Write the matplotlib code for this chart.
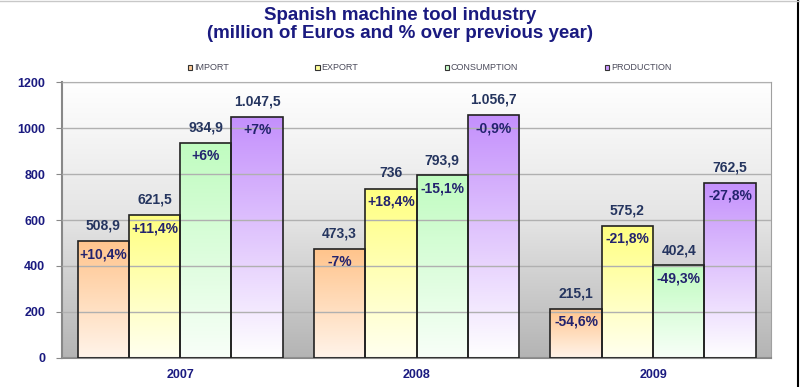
import numpy as np
import matplotlib.pyplot as plt
from matplotlib.patches import Patch
from matplotlib.lines import Line2D
from matplotlib.colors import LinearSegmentedColormap

plt.rcParams['font.family'] = ['Liberation Sans', 'DejaVu Sans']

years = ['2007', '2008', '2009']
series = ['IMPORT', 'EXPORT', 'CONSUMPTION', 'PRODUCTION']
values = {
    'IMPORT':      [508.9, 473.3, 215.1],
    'EXPORT':      [621.5, 736.0, 575.2],
    'CONSUMPTION': [934.9, 793.9, 402.4],
    'PRODUCTION':  [1047.5, 1056.7, 762.5],
}
value_labels = {
    'IMPORT':      ['508,9', '473,3', '215,1'],
    'EXPORT':      ['621,5', '736', '575,2'],
    'CONSUMPTION': ['934,9', '793,9', '402,4'],
    'PRODUCTION':  ['1.047,5', '1.056,7', '762,5'],
}
pct_labels = {
    'IMPORT':      ['+10,4%', '-7%', '-54,6%'],
    'EXPORT':      ['+11,4%', '+18,4%', '-21,8%'],
    'CONSUMPTION': ['+6%', '-15,1%', '-49,3%'],
    'PRODUCTION':  ['+7%', '-0,9%', '-27,8%'],
}
yticks = [0, 200, 400, 600, 800, 1000, 1200]

# top colour / bottom colour of each bar gradient
grad_cols = {
    'IMPORT':      ('#ffc48c', '#fff4ea'),
    'EXPORT':      ('#ffff80', '#fffff0'),
    'CONSUMPTION': ('#c0fcc0', '#f8fff8'),
    'PRODUCTION':  ('#c490fc', '#ffffff'),
}
legend_cols = {'IMPORT': '#ffcc99', 'EXPORT': '#ffff99',
               'CONSUMPTION': '#ccffcc', 'PRODUCTION': '#cc99ff'}

navy = '#1a1a80'
val_col = '#25355f'
pct_col = '#23236e'

fig = plt.figure(figsize=(8, 3.87), dpi=100)
ax = fig.add_axes([0.0775, 0.075, 0.8865, 0.713])

x = np.arange(len(years))
w = 0.217
offsets = (np.arange(4) - 1.5) * w

# background gradient of plot area
bg = LinearSegmentedColormap.from_list('bg', ['#b4b4b4', '#e4e4e4', '#ffffff'])
ax.imshow(np.linspace(0, 1, 256).reshape(-1, 1), cmap=bg, origin='lower',
          extent=[0, 1, 0, 1], transform=ax.transAxes, aspect='auto', zorder=0)

for i, s in enumerate(series):
    bars = ax.bar(x + offsets[i], values[s], w, facecolor='none',
                  edgecolor='#222222', linewidth=1.2, zorder=3)
    cm = LinearSegmentedColormap.from_list(s, [grad_cols[s][1], grad_cols[s][0]])
    for j, b in enumerate(bars):
        x0, y0 = b.get_x(), b.get_y()
        bw, bh = b.get_width(), b.get_height()
        im = ax.imshow(np.linspace(0, 1, 256).reshape(-1, 1), cmap=cm, origin='lower',
                       extent=[x0, x0 + bw, y0, y0 + bh], aspect='auto', zorder=2)
        im.set_clip_path(b)
        ax.annotate(value_labels[s][j], (x0 + bw / 2, bh), xytext=(0, 6),
                    textcoords='offset points', ha='center', va='bottom',
                    fontsize=10, fontweight='bold', color=val_col, zorder=5)
        ax.annotate(pct_labels[s][j], (x0 + bw / 2, bh), xytext=(0, -4.5),
                    textcoords='offset points', ha='center', va='top',
                    fontsize=10, fontweight='bold', color=pct_col, zorder=5)

ax.set_xlim(-0.5, 2.5)
ax.set_ylim(0, 1200)
ax.set_yticks(yticks)
ax.set_xticks(x)
ax.set_xticklabels(years)
ax.yaxis.grid(True, color='#b0b0b0', linewidth=1, zorder=1)
ax.set_axisbelow(False)
for lab in ax.get_xticklabels() + ax.get_yticklabels():
    lab.set_fontweight('bold')
    lab.set_color(navy)
    lab.set_fontsize(9)
ax.tick_params(axis='y', length=4, color='#888888', pad=8)
ax.tick_params(axis='x', length=0, pad=8)
for sp in ax.spines.values():
    sp.set_color('#a0a0a0')
ax.spines['left'].set_color('#888888')
ax.spines['bottom'].set_color('#888888')
ax.spines['left'].set_linewidth(1.5)
ax.spines['bottom'].set_linewidth(1.5)

handles = [Patch(facecolor=legend_cols[s], edgecolor='#333333', linewidth=0.8) for s in series]
fig.legend(handles, series, ncol=4, loc='lower left', mode='expand',
           bbox_to_anchor=(184 / 800, 1 - 76 / 387, 491 / 800, 0.03),
           frameon=False, fontsize=6.5, handlelength=0.5, handleheight=0.5,
           handletextpad=0.2, borderaxespad=0, labelcolor='#4a4a5a')

fig.text(0.5, 1 - 16 / 387, 'Spanish machine tool industry', ha='center', va='center',
         fontsize=13.5, fontweight='bold', color=navy)
fig.text(0.5, 1 - 34 / 387, '(million of Euros and % over previous year)', ha='center',
         va='center', fontsize=13.5, fontweight='bold', color=navy)

fig.add_artist(Line2D([997 / 1000, 997 / 1000], [0, 1], transform=fig.transFigure,
                      color='black', linewidth=1.5))
fig.add_artist(Line2D([0, 1], [0.997, 0.997], transform=fig.transFigure,
                      color='#c8c8c8', linewidth=1))

fig.savefig('out.png', dpi=100)
